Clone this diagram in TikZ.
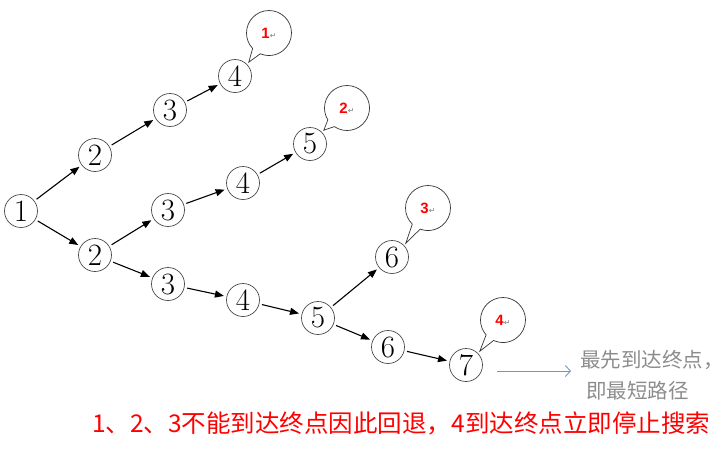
\documentclass[tikz,border=0pt]{standalone}
\usepackage{fontspec}
\newfontfamily\cjk{Noto Sans CJK SC}
\newfontfamily\tagfont{Liberation Sans}
\newfontfamily\symfont{DejaVu Sans}
\usepackage{xcolor}
\usetikzlibrary{arrows.meta,shapes.callouts}
\definecolor{hintred}{HTML}{FF0000}
\definecolor{hintgray}{HTML}{8C8C8C}
\definecolor{hintblue}{HTML}{6E97C9}
\definecolor{ringgray}{HTML}{4A4A4A}
\newcommand{\steptag}[1]{{\tagfont\bfseries\color{hintred}#1}{\symfont\fontsize{8}{8}\selectfont\color{gray}↵}}

\begin{document}
\begin{tikzpicture}[x=1pt,y=-1pt,
  state/.style={circle,draw=ringgray,line width=0.7pt,minimum size=33pt,
    inner sep=0pt,outer sep=3pt,font=\fontsize{31}{31}\selectfont},
  bubble/.style={ellipse callout,draw=black!80,line width=0.7pt,
    minimum size=45pt,inner sep=0pt,callout pointer arc=24,
    font=\fontsize{15}{15}\selectfont},
  arrow/.style={-{Triangle[length=9pt,width=7pt]},line width=1.1pt},
  hint/.style={-{Straight Barb[length=5pt,width=11pt]},draw=hintblue,line width=0.9pt}
]
\useasboundingbox (0,0) rectangle (726,451);

\node[state] (n1) at (21,211) {1};
\node[state] (n2a) at (95,155) {2};
\node[state] (n3a) at (170,110) {3};
\node[state] (n4a) at (235,76) {4};
\node[state] (n2b) at (95,255) {2};
\node[state] (n3b) at (168,210) {3};
\node[state] (n4b) at (243,183) {4};
\node[state] (n5b) at (310,144) {5};
\node[state] (n3c) at (168,284) {3};
\node[state] (n4c) at (243,300) {4};
\node[state] (n5c) at (318,318) {5};
\node[state] (n6a) at (392,257) {6};
\node[state] (n6c) at (388,347) {6};
\node[state] (n7) at (466,365) {7};

\node[bubble,callout absolute pointer={(n4a.north east)}] (tag1) at (269,33) {\steptag{1}};
\node[bubble,callout absolute pointer={(n5b.north east)}] (tag2) at (347,108) {\steptag{2}};
\node[bubble,callout absolute pointer={(n6a.north east)}] (tag3) at (428,208) {\steptag{3}};
\node[bubble,callout absolute pointer={(n7.north east)}] (tag4) at (503,320) {\steptag{4}};

\draw[arrow] (n1) -- (n2a);
\draw[arrow] (n1) -- (n2b);
\draw[arrow] (n2a) -- (n3a);
\draw[arrow] (n3a) -- (n4a);
\draw[arrow] (n2b) -- (n3b);
\draw[arrow] (n3b) -- (n4b);
\draw[arrow] (n4b) -- (n5b);
\draw[arrow] (n2b) -- (n3c);
\draw[arrow] (n3c) -- (n4c);
\draw[arrow] (n4c) -- (n5c);
\draw[arrow] (n5c) -- (n6a);
\draw[arrow] (n5c) -- (n6c);
\draw[arrow] (n6c) -- (n7);

% result note
\node[anchor=north west,align=left,inner sep=0pt,text=hintgray,
  font=\cjk\fontsize{20.5}{31}\selectfont] (result) at (580,350)
  {最先到达终点，\\\hspace{6pt}即最短路径};
\coordinate (hs) at (497,371);
\draw[hint,shorten >=9pt] (hs) -- (hs -| result.west);

\node[anchor=west,inner sep=0pt,text=hintred,
  font=\cjk\fontsize{24.5}{28}\selectfont] (note) at (92,423)
  {1、2、3不能到达终点因此回退，4到达终点立即停止搜索};
\end{tikzpicture}
\end{document}
